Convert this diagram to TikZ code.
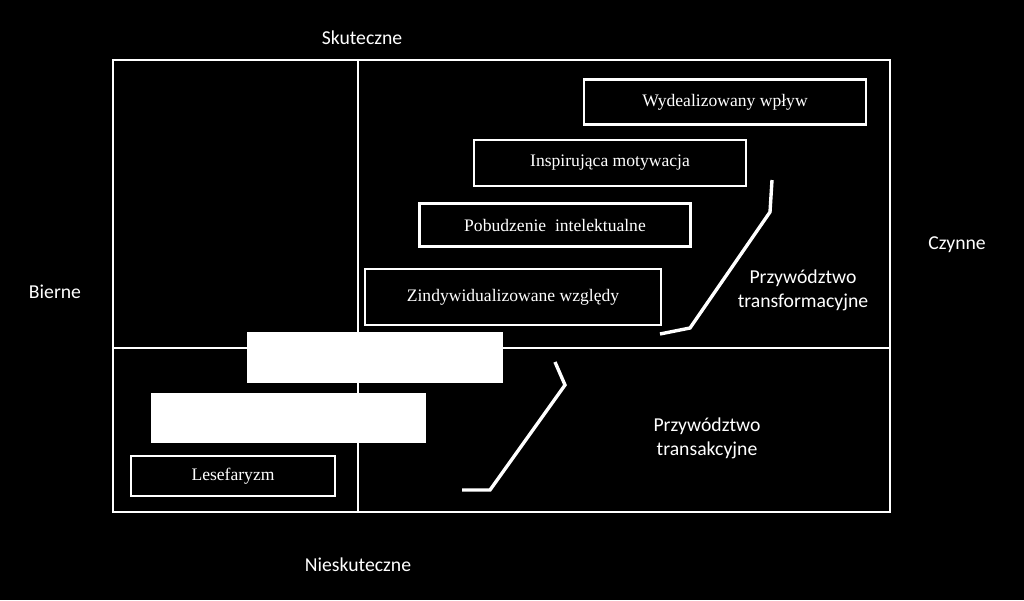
\documentclass[tikz,border=0pt]{standalone}
\usepackage{fontspec}
\setmainfont{Liberation Serif}
\newfontfamily\labelfont{Carlito}
\usetikzlibrary{positioning}
\tikzstyle{frame}  = [draw=white, line width=1.6pt]
\tikzstyle{box}    = [draw=white, line width=1.6pt, fill=black, text=white, font=\fontsize{12.5}{14}\selectfont, inner sep=0pt]
\tikzstyle{blank}  = [draw=white, fill=white, inner sep=0pt]
\tikzstyle{lbl}    = [text=white, font=\labelfont\fontsize{14}{17}\selectfont, align=center]
\tikzstyle{brace}  = [draw=white, line width=2.4pt]

\begin{document}
\begin{tikzpicture}[x=0.025cm, y=-0.025cm]
\fill[black] (0,0) rectangle (1024,600);
\useasboundingbox (0,0) rectangle (1024,600);

% frame
\draw [frame] (113,60) rectangle (890,512);
\draw [frame] (358,60) -- (358,512);
\draw [frame] (113,348) -- (890,348);

% boxes
\node [box, minimum width=282*0.025cm, minimum height=45*0.025cm] at (725,102) (ideal) {Wydealizowany wpływ};
\node [box, minimum width=272*0.025cm, minimum height=46*0.025cm] at (610,163) (insp)  {Inspirująca motywacja};
\node [box, minimum width=271*0.025cm, minimum height=43*0.025cm] at (555,225) (intel) {Pobudzenie~ intelektualne};
\node [box, minimum width=296*0.025cm, minimum height=56*0.025cm] at (513,297) (indiv) {Zindywidualizowane względy};
\node [blank, minimum width=255*0.025cm, minimum height=50*0.025cm] at (375,357) (white1) {};
\node [blank, minimum width=274*0.025cm, minimum height=49*0.025cm] at (288,418) (white2) {};
\node [box, minimum width=204*0.025cm, minimum height=40*0.025cm] at (233,476) (lese)  {Lesefaryzm};

% labels
\node [lbl] at (362,38)  (eff)    {Skuteczne};
\node [lbl] at (358,565) (ineff)  {Nieskuteczne};
\node [lbl] at (55,292)  (pass)   {Bierne};
\node [lbl] at (957,245) (act)    {Czynne};
\node [lbl] at (803,290) (transf) {Przywództwo\\transformacyjne};
\node [lbl] at (707,438) (transa) {Przywództwo\\transakcyjne};

% braces
\draw [brace] (772,180) -- (770,212) -- (690,328) -- (660,334);
\draw [brace] (555,362) -- (565,385) -- (490,490) -- (462,490);

\end{tikzpicture}
\end{document}
